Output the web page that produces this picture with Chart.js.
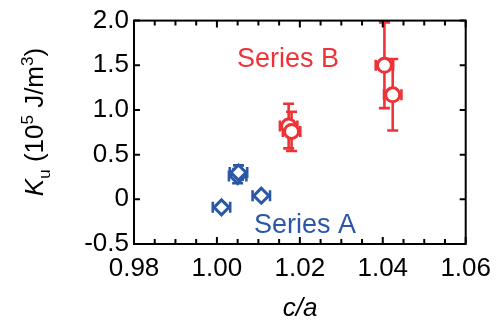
<!DOCTYPE html>
<html><head><meta charset="utf-8">
<script src="https://cdn.jsdelivr.net/npm/chart.js@4"></script>
<style>html,body{margin:0;padding:0;background:#fff}#wrap{width:500px;height:329px}</style>
</head><body><div id="wrap"><canvas id="c" width="500" height="329"></canvas></div>
<script>
// Data
const seriesAx = [1.0011, 1.0050, 1.0052, 1.0107];
const seriesAy = [-0.09, 0.26, 0.30, 0.04];
const seriesAxErr = [0.0021, 0.0021, 0.0021, 0.0021];
const seriesAyErr = [0.03, 0.08, 0.08, 0.03];

const seriesBx = [1.0173, 1.0180, 1.0404, 1.0424];
const seriesBy = [0.82, 0.76, 1.50, 1.17];
const seriesBxErr = [0.0021, 0.0021, 0.0021, 0.0021];
const seriesByErr = [0.25, 0.22, 0.48, 0.40];

const xTickValues = [0.98, 1.00, 1.02, 1.04, 1.06];
const yTickValues = [-0.5, 0, 0.5, 1.0, 1.5, 2.0];

const BLUE = '#2b57a7';
const RED = '#ee3338';
const FONT = '"Liberation Sans", Arial, sans-serif';

const toPts = (xs, ys) => xs.map((x, i) => ({x: x, y: ys[i]}));

const errorPlugin = {
  id: 'errs',
  beforeDatasetsDraw(chart) {
    const ctx = chart.ctx, xs = chart.scales.x, ys = chart.scales.y;
    const sets = [
      [seriesAx, seriesAy, seriesAxErr, seriesAyErr, BLUE],
      [seriesBx, seriesBy, seriesBxErr, seriesByErr, RED]
    ];
    ctx.save();
    ctx.lineWidth = 2.6;
    for (const [X, Y, XE, YE, col] of sets) {
      ctx.strokeStyle = col;
      for (let i = 0; i < X.length; i++) {
        const px = xs.getPixelForValue(X[i]), py = ys.getPixelForValue(Y[i]);
        const x1 = xs.getPixelForValue(X[i] - XE[i]), x2 = xs.getPixelForValue(X[i] + XE[i]);
        const y1 = ys.getPixelForValue(Y[i] + YE[i]), y2 = ys.getPixelForValue(Y[i] - YE[i]);
        const c = 5.5;
        ctx.beginPath();
        ctx.moveTo(x1, py); ctx.lineTo(x2, py);
        ctx.moveTo(x1, py - c); ctx.lineTo(x1, py + c);
        ctx.moveTo(x2, py - c); ctx.lineTo(x2, py + c);
        ctx.moveTo(px, y1); ctx.lineTo(px, y2);
        ctx.moveTo(px - c, y1); ctx.lineTo(px + c, y1);
        ctx.moveTo(px - c, y2); ctx.lineTo(px + c, y2);
        ctx.stroke();
      }
    }
    ctx.restore();
  }
};

const framePlugin = {
  id: 'frame',
  afterDraw(chart) {
    const ctx = chart.ctx, a = chart.chartArea, xs = chart.scales.x, ys = chart.scales.y;
    ctx.save();
    ctx.strokeStyle = '#000';
    ctx.lineWidth = 2;
    ctx.strokeRect(a.left, a.top, a.right - a.left, a.bottom - a.top);
    ctx.beginPath();
    for (let k = 0; k <= 16; k++) {
      const v = 0.98 + k * 0.005;
      const px = xs.getPixelForValue(v);
      const len = (k % 4 === 0) ? 7 : 5;
      ctx.moveTo(px, a.bottom); ctx.lineTo(px, a.bottom - len);
      ctx.moveTo(px, a.top); ctx.lineTo(px, a.top + len);
    }
    for (const v of yTickValues) {
      const py = ys.getPixelForValue(v);
      ctx.moveTo(a.left, py); ctx.lineTo(a.left + 6, py);
      ctx.moveTo(a.right, py); ctx.lineTo(a.right - 6, py);
    }
    ctx.stroke();

    // Series labels
    ctx.textBaseline = 'alphabetic';
    ctx.font = '27px ' + FONT;
    ctx.fillStyle = RED;
    ctx.textAlign = 'left';
    ctx.fillText('Series B', 237, 67);
    ctx.fillStyle = BLUE;
    ctx.fillText('Series A', 254, 233);

    // x title c/a
    ctx.fillStyle = '#000';
    ctx.font = 'italic 26px ' + FONT;
    ctx.textAlign = 'center';
    ctx.fillText('c/a', 300, 316);

    // y title K_u (10^5 J/m^3)
    ctx.translate(43, 122);
    ctx.rotate(-Math.PI / 2);
    const parts = [
      ['K', 'italic 26px ', 0],
      ['u', '17px ', 7],
      [' (10', '26px ', 0],
      ['5', '17px ', -10],
      [' J/m', '26px ', 0],
      ['3', '17px ', -10],
      [')', '26px ', 0]
    ];
    let total = 0;
    for (const [t, f] of parts) { ctx.font = f + FONT; total += ctx.measureText(t).width; }
    let x = -total / 2;
    ctx.textAlign = 'left';
    for (const [t, f, dy] of parts) {
      ctx.font = f + FONT;
      ctx.fillText(t, x, dy);
      x += ctx.measureText(t).width;
    }
    ctx.restore();
  }
};

new Chart(document.getElementById('c'), {
  type: 'scatter',
  data: {
    datasets: [
      {
        label: 'Series A',
        data: toPts(seriesAx, seriesAy),
        pointStyle: 'rectRot',
        pointRadius: 7.5,
        pointBorderWidth: 3,
        borderColor: BLUE,
        backgroundColor: '#fff',
        pointHoverRadius: 7.5
      },
      {
        label: 'Series B',
        data: toPts(seriesBx, seriesBy),
        pointStyle: 'circle',
        pointRadius: 7,
        pointBorderWidth: 3,
        borderColor: RED,
        backgroundColor: '#fff',
        pointHoverRadius: 7
      }
    ]
  },
  options: {
    responsive: false,
    animation: false,
    events: [],
    layout: {padding: {top: 14, right: 34, left: 0, bottom: 0}},
    plugins: {legend: {display: false}, tooltip: {enabled: false}},
    scales: {
      x: {
        type: 'linear', min: 0.98, max: 1.06,
        afterFit(s) { s.height = 85; },
        afterBuildTicks(s) { s.ticks = xTickValues.map(v => ({value: v})); },
        grid: {display: false, drawTicks: false},
        border: {display: false},
        ticks: {
          color: '#000', padding: 9,
          font: {family: FONT, size: 26},
          maxRotation: 0, autoSkip: false,
          callback: v => v.toFixed(2)
        }
      },
      y: {
        type: 'linear', min: -0.5, max: 2.0,
        afterFit(s) { s.width = 134; },
        afterBuildTicks(s) { s.ticks = yTickValues.map(v => ({value: v})); },
        grid: {display: false, drawTicks: false},
        border: {display: false},
        ticks: {
          color: '#000', padding: 5,
          font: {family: FONT, size: 26},
          autoSkip: false,
          callback: v => (Math.abs(v) < 1e-9 ? '0' : v.toFixed(1))
        }
      }
    }
  },
  plugins: [errorPlugin, framePlugin]
});
</script>
</body></html>
